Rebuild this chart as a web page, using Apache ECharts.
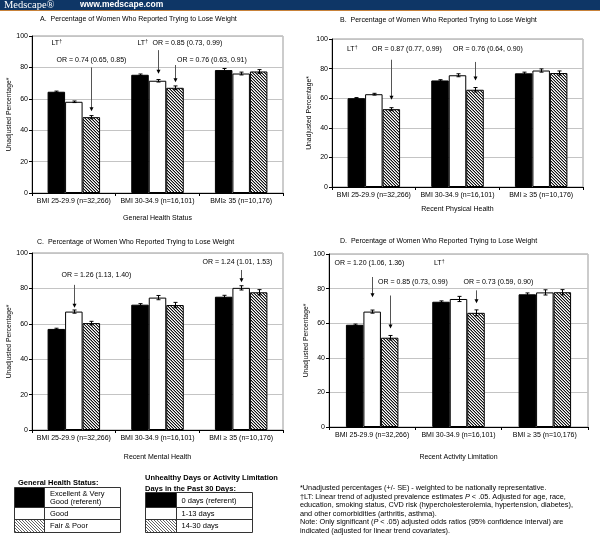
<!DOCTYPE html>
<html>
<head>
<meta charset="utf-8">
<script src="https://cdn.jsdelivr.net/npm/echarts@6/dist/echarts.min.js"></script>
<style>
  html, body { margin: 0; padding: 0; background: #fff; }
  #chart { width: 600px; height: 539px; }
</style>
</head>
<body>
<div id="chart"></div>
<script>
// categories
var catsA = ['BMI 25-29.9 (n=32,266)', 'BMI 30-34.9 (n=16,101)', 'BMI\u2265 35 (n=10,176)'];
var catsBCD = ['BMI 25-29.9 (n=32,266)', 'BMI 30-34.9 (n=16,101)', 'BMI \u2265 35 (n=10,176)'];

// A. general health status
var genExcellent = [64.5, 75.3, 78.3];
var genGood = [58.1, 71.5, 76.1];
var genFairPoor = [48.3, 67.0, 77.4];
var genExcellentSE = [0.4, 0.5, 1.0];
var genGoodSE = [0.5, 0.8, 0.9];
var genFairPoorSE = [1.0, 1.2, 1.2];

// B. recent physical health
var physZero = [60.0, 72.0, 76.8];
var physLow = [62.7, 75.5, 78.7];
var physHigh = [52.6, 65.7, 77.0];
var physZeroSE = [0.4, 0.5, 0.8];
var physLowSE = [0.6, 1.0, 1.1];
var physHighSE = [1.0, 1.5, 1.4];

// C. recent mental health
var mentZero = [57.1, 70.8, 75.3];
var mentLow = [66.9, 74.8, 80.3];
var mentHigh = [60.4, 70.6, 77.8];
var mentZeroSE = [0.4, 0.6, 0.8];
var mentLowSE = [0.9, 1.2, 1.2];
var mentHighSE = [1.0, 1.5, 1.5];

// D. recent activity limitation
var actZero = [59.1, 72.4, 76.7];
var actLow = [66.7, 74.0, 77.8];
var actHigh = [51.6, 66.0, 77.9];
var actZeroSE = [0.4, 0.5, 0.8];
var actLowSE = [0.9, 1.5, 1.5];
var actHighSE = [1.3, 1.7, 1.5];

var yMin = 0, yMax = 100, yStep = 20;

var panels = [
  {title: 'A.  Percentage of Women Who Reported Trying to Lose Weight', cats: catsA, xName: 'General Health Status',
   vals: [genExcellent, genGood, genFairPoor], ses: [genExcellentSE, genGoodSE, genFairPoorSE]},
  {title: 'B.  Percentage of Women Who Reported Trying to Lose Weight', cats: catsBCD, xName: 'Recent Physical Health',
   vals: [physZero, physLow, physHigh], ses: [physZeroSE, physLowSE, physHighSE]},
  {title: 'C.  Percentage of Women Who Reported Trying to Lose Weight', cats: catsBCD, xName: 'Recent Mental Health',
   vals: [mentZero, mentLow, mentHigh], ses: [mentZeroSE, mentLowSE, mentHighSE]},
  {title: 'D.  Percentage of Women Who Reported Trying to Lose Weight', cats: catsBCD, xName: 'Recent Activity Limitation',
   vals: [actZero, actLow, actHigh], ses: [actZeroSE, actLowSE, actHighSE]}
];

// layout of the four plots
var layout = [
  {left: 32, top: 36, width: 251, height: 157, titleLeft: 40, titleTop: 16, nameGap: 22},
  {left: 332, top: 39, width: 251, height: 148, titleLeft: 340, titleTop: 17, nameGap: 19},
  {left: 32, top: 253, width: 251, height: 177, titleLeft: 37, titleTop: 239, nameGap: 24},
  {left: 329, top: 254, width: 259, height: 173, titleLeft: 340, titleTop: 238, nameGap: 27}
];

// OR / LT annotations (values in percent units, dx in px from the bar centre)
var notes = [
  {g: 0, cat: 0, bar: 0, ty: 95.5, dx: -5, lt: true},
  {g: 0, cat: 0, bar: 2, from: 80, to: 52, ty: 84.7, dx: 0, center: true, text: 'OR = 0.74 (0.65, 0.85)'},
  {g: 0, cat: 1, bar: 1, ty: 95.5, dx: -21, lt: true},
  {g: 0, cat: 1, bar: 1, from: 91, to: 76, ty: 95.5, dx: -6, text: 'OR = 0.85 (0.73, 0.99)'},
  {g: 0, cat: 1, bar: 2, from: 81.5, to: 70.5, ty: 84.7, dx: 1.5, text: 'OR = 0.76 (0.63, 0.91)'},
  {g: 1, cat: 0, bar: 0, ty: 93, dx: -9.5, lt: true},
  {g: 1, cat: 0, bar: 2, from: 86, to: 59, ty: 93, dx: -19.5, text: 'OR = 0.87 (0.77, 0.99)'},
  {g: 1, cat: 1, bar: 2, from: 84.5, to: 72, ty: 93, dx: -22.5, text: 'OR = 0.76 (0.64, 0.90)'},
  {g: 2, cat: 0, bar: 1, from: 82, to: 69, ty: 87.6, dx: -13, text: 'OR = 1.26 (1.13, 1.40)'},
  {g: 2, cat: 2, bar: 1, from: 90.4, to: 83.5, ty: 95, dx: -39, text: 'OR = 1.24 (1.01, 1.53)'},
  {g: 3, cat: 0, bar: 1, from: 86.7, to: 75, ty: 94.8, dx: -38, text: 'OR = 1.20 (1.06, 1.36)'},
  {g: 3, cat: 1, bar: 0, ty: 94.8, dx: -7.5, lt: true},
  {g: 3, cat: 0, bar: 2, from: 76, to: 57, ty: 83.8, dx: -12.5, text: 'OR = 0.85 (0.73, 0.99)'},
  {g: 3, cat: 1, bar: 2, from: 79, to: 71.5, ty: 83.8, dx: -13, text: 'OR = 0.73 (0.59, 0.90)'}
];

var FONT = 'Liberation Sans, Arial, sans-serif';
var BAR_W = 17.5;

// fine diagonal hatch tile; dense = bars, light = legend swatch
function makeHatch(dense) {
  var c = document.createElement('canvas');
  c.width = 3; c.height = 3;
  var ctx = c.getContext('2d');
  ctx.fillStyle = '#fff';
  ctx.fillRect(0, 0, 3, 3);
  for (var i = 0; i < 3; i++) {
    ctx.fillStyle = dense ? '#111' : '#666';
    ctx.fillRect(i, i, 1, 1);
    if (dense) {
      ctx.fillStyle = '#999';
      ctx.fillRect(i, (i + 1) % 3, 1, 1);
    }
  }
  return c;
}
var hatch = {image: makeHatch(true), repeat: 'repeat'};
var hatchLight = {image: makeHatch(false), repeat: 'repeat'};
var fills = ['#000', '#fff', hatch];

function renderErr(params, api) {
  var cat = api.value(0), v = api.value(1), se = api.value(2), bar = api.value(3);
  var x = Math.round(api.coord([cat, v])[0] + (bar - 1) * BAR_W) + 0.5;
  var yt = api.coord([cat, v + se])[1];
  var yb = api.coord([cat, v - se])[1];
  var st = {stroke: '#000', lineWidth: 1};
  return {type: 'group', children: [
    {type: 'line', shape: {x1: x, y1: yt, x2: x, y2: yb}, style: st},
    {type: 'line', shape: {x1: x - 2, y1: yt, x2: x + 2, y2: yt}, style: st},
    {type: 'line', shape: {x1: x - 2, y1: yb, x2: x + 2, y2: yb}, style: st}
  ]};
}

function noteRenderer(list) {
  return function (params, api) {
    var n = list[params.dataIndex];
    var x = Math.round(api.coord([n.cat, 0])[0] + (n.bar - 1) * BAR_W) + 0.5;
    var kids = [];
    if (n.from != null) {
      var y1 = api.coord([n.cat, n.from])[1];
      var y2 = api.coord([n.cat, n.to])[1];
      kids.push({type: 'line', shape: {x1: x, y1: y1, x2: x, y2: y2 - 3}, style: {stroke: '#555', lineWidth: 1}});
      kids.push({type: 'polygon', shape: {points: [[x - 2, y2 - 4], [x + 2, y2 - 4], [x, y2]]}, style: {fill: '#000'}});
    }
    var ty = api.coord([n.cat, n.ty])[1];
    var txt = n.lt ? '{a|LT}{s|\u2020}' : n.text;
    kids.push({type: 'text', x: x + n.dx, y: ty, style: {
      text: txt, fontSize: 7, fontFamily: FONT, fill: '#000',
      align: n.center ? 'center' : 'left', verticalAlign: 'middle',
      rich: {a: {fontSize: 7, fontFamily: FONT}, s: {fontSize: 5, fontFamily: FONT, verticalAlign: 'top', padding: [0, 0, 3, 0]}}
    }});
    return {type: 'group', children: kids};
  };
}

var titles = [], grids = [], xAxes = [], yAxes = [], series = [];
panels.forEach(function (p, g) {
  var L = layout[g];
  titles.push({text: p.title, left: L.titleLeft, top: L.titleTop, padding: 0,
    textStyle: {fontSize: 7, fontWeight: 'normal', color: '#000', fontFamily: FONT}});
  grids.push({left: L.left, top: L.top, width: L.width, height: L.height, show: true,
    borderColor: '#999', borderWidth: 1, backgroundColor: 'transparent'});
  xAxes.push({type: 'category', gridIndex: g, data: p.cats,
    name: p.xName, nameLocation: 'middle', nameGap: L.nameGap,
    nameTextStyle: {fontSize: 7, color: '#000', fontFamily: FONT},
    axisLine: {lineStyle: {color: '#000', width: 1}},
    axisTick: {show: true, length: 3, lineStyle: {color: '#000'}},
    axisLabel: {fontSize: 7, color: '#000', margin: 5, fontFamily: FONT, interval: 0},
    splitLine: {show: false}});
  yAxes.push({type: 'value', gridIndex: g, min: yMin, max: yMax, interval: yStep,
    name: 'Unadjusted Percentage*', nameLocation: 'middle', nameGap: 18,
    nameTextStyle: {fontSize: 6.8, color: '#000', fontFamily: FONT},
    axisLine: {show: true, lineStyle: {color: '#000', width: 1}},
    axisTick: {show: true, length: 3, lineStyle: {color: '#000'}},
    axisLabel: {fontSize: 7, color: '#000', margin: 4, fontFamily: FONT},
    splitLine: {show: true, lineStyle: {color: '#c4c4c4', width: 1}}});
  p.vals.forEach(function (vals, k) {
    series.push({type: 'bar', xAxisIndex: g, yAxisIndex: g, data: vals,
      barWidth: BAR_W, barGap: '0%', z: 2,
      itemStyle: {color: fills[k], borderColor: '#000', borderWidth: 1}});
  });
  var errData = [];
  p.vals.forEach(function (vals, k) {
    vals.forEach(function (v, c) { errData.push([c, v, p.ses[k][c], k]); });
  });
  series.push({type: 'custom', xAxisIndex: g, yAxisIndex: g, data: errData,
    encode: {x: 0, y: 1}, renderItem: renderErr, z: 3, silent: true});
  var gNotes = notes.filter(function (n) { return n.g === g; });
  series.push({type: 'custom', xAxisIndex: g, yAxisIndex: g,
    data: gNotes.map(function (n) { return [n.cat, n.ty]; }),
    encode: {x: 0, y: 1}, renderItem: noteRenderer(gNotes), z: 4, silent: true, clip: false});
});

// legend tables, header and footnotes
var lineSt = {stroke: '#333', lineWidth: 1, fill: null};
function cellText(x, y, t) {
  return {type: 'text', x: x, y: y, style: {text: t, fontSize: 7.5, fontFamily: FONT, fill: '#000', verticalAlign: 'middle'}};
}
function boldText(x, y, t) {
  return {type: 'text', x: x, y: y, style: {text: t, fontSize: 7.5, fontWeight: 'bold', fontFamily: FONT, fill: '#000', verticalAlign: 'middle'}};
}
function table(x0, x1, x2, ys) {
  var els = [];
  els.push({type: 'rect', shape: {x: x0, y: ys[0], width: x1 - x0, height: ys[1] - ys[0]}, style: {fill: '#000'}});
  els.push({type: 'rect', shape: {x: x0, y: ys[2], width: x1 - x0, height: ys[3] - ys[2]}, style: {fill: hatchLight}});
  els.push({type: 'rect', shape: {x: x0, y: ys[0], width: x2 - x0, height: ys[3] - ys[0]}, style: lineSt});
  els.push({type: 'line', shape: {x1: x1, y1: ys[0], x2: x1, y2: ys[3]}, style: lineSt});
  els.push({type: 'line', shape: {x1: x0, y1: ys[1], x2: x2, y2: ys[1]}, style: lineSt});
  els.push({type: 'line', shape: {x1: x0, y1: ys[2], x2: x2, y2: ys[2]}, style: lineSt});
  return els;
}

var foot = {fontSize: 7.3, fontFamily: FONT, fill: '#000'};
var footLines = [
  '*Unadjusted percentages (+/- SE) - weighted to be nationally representative.',
  '\u2020LT: Linear trend of adjusted prevalence estimates {i|P} < .05. Adjusted for age, race,',
  'education, smoking status, CVD risk (hypercholesterolemia, hypertension, diabetes),',
  'and other comorbidities (arthritis, asthma).',
  'Note: Only significant ({i|P} < .05) adjusted odds ratios (95% confidence interval) are',
  'indicated (adjusted for linear trend covariates).'
];

var graphics = [
  {type: 'rect', shape: {x: 0, y: 0, width: 600, height: 10}, style: {fill: '#0e3666'}},
  {type: 'rect', shape: {x: 0, y: 10, width: 600, height: 1}, style: {fill: '#c8823a'}},
  {type: 'text', x: 4, y: 5, style: {text: 'Medscape\u00ae', fontSize: 10.5, fontFamily: 'Liberation Serif, serif', fill: '#fff', verticalAlign: 'middle'}},
  {type: 'text', x: 80, y: 5, style: {text: 'www.medscape.com', fontSize: 8.5, fontWeight: 'bold', fontFamily: FONT, fill: '#fff', verticalAlign: 'middle'}},
  boldText(18, 483, 'General Health Status:'),
  boldText(145, 478, 'Unhealthy Days or Activity Limitation'),
  boldText(145, 488.5, 'Days in the Past 30 Days:')
].concat(table(14.5, 44.5, 120.5, [487.5, 507.5, 519.5, 532.5]))
 .concat(table(145.5, 176.5, 252.5, [492.5, 507.5, 519.5, 532.5]))
 .concat([
  cellText(50, 493.5, 'Excellent & Very'),
  cellText(50, 502, 'Good (referent)'),
  cellText(50, 513.5, 'Good'),
  cellText(50, 526, 'Fair & Poor'),
  cellText(181.5, 500.5, '0 days (referent)'),
  cellText(181.5, 513.5, '1-13 days'),
  cellText(181.5, 526, '14-30 days')
 ]);
footLines.forEach(function (t, i) {
  graphics.push({type: 'text', x: 300, y: 488 + i * 8.6, style: {
    text: t, fontSize: foot.fontSize, fontFamily: foot.fontFamily, fill: foot.fill, verticalAlign: 'middle',
    rich: {i: {fontStyle: 'italic', fontSize: foot.fontSize, fontFamily: foot.fontFamily}}
  }});
});

var chart = echarts.init(document.getElementById('chart'), null, {renderer: 'canvas'});
chart.setOption({
  animation: false,
  backgroundColor: '#fff',
  textStyle: {fontFamily: FONT},
  title: titles,
  grid: grids,
  xAxis: xAxes,
  yAxis: yAxes,
  series: series,
  graphic: graphics
});
</script>
</body>
</html>
